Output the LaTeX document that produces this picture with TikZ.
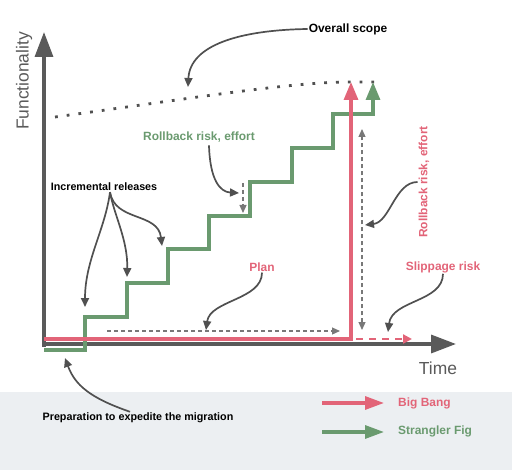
\documentclass[tikz,border=0pt]{standalone}
\usepackage{fontspec}
\setmainfont{Liberation Sans}
\usetikzlibrary{arrows.meta}
\definecolor{bbred}{RGB}{226,100,120}
\definecolor{sfgreen}{RGB}{106,154,111}
\definecolor{axisgray}{RGB}{90,90,90}
\definecolor{anngray}{RGB}{80,80,80}
\definecolor{dashgray}{RGB}{120,120,120}
\definecolor{band}{RGB}{236,239,242}
\begin{document}
\begin{tikzpicture}[x=1bp,y=-1bp,
  axisline/.style={draw=axisgray,line width=3.4bp,-{Triangle[length=25bp,width=18bp]}},
  redline/.style={draw=bbred,line width=3.2bp},
  greenline/.style={draw=sfgreen,line width=3.2bp},
  ann/.style={draw=anngray,line width=1.7bp,-{Triangle[length=9bp,width=8bp]}},
  dashann/.style={draw=dashgray,line width=1.2bp,dash pattern=on 4bp off 3bp},
  lbl/.style={font=\bfseries\fontsize{10.8}{13}\selectfont,inner sep=1bp},
  clbl/.style={font=\bfseries\fontsize{12}{14}\selectfont,inner sep=1bp},
  axlbl/.style={font=\fontsize{17.5}{20}\selectfont,text=axisgray,inner sep=0bp}]
\useasboundingbox (0,0) rectangle (512,470);
\fill[band] (0,392) rectangle (512,470);
% dotted overall scope
\draw[anngray,line width=2.8bp,dash pattern=on 2.8bp off 9bp] (55,117) .. controls (180,100) and (290,82) .. (348,82) -- (376,82);
% axes
\coordinate (ytop) at (44,32);
\coordinate (xend) at (456,344);
\draw[axisline] (44,346.7) -- (ytop);
\draw[axisline] (42.3,344) -- (xend);
\node[axlbl,rotate=90] (func) at (24,81) {Functionality};
\node[axlbl] (time) at (438,368) {Time};
% green staircase
\coordinate (g0) at (44,350);
\coordinate (gtip) at (373,82);
\draw[greenline,-{Triangle[length=18bp,width=14bp]}] (g0) -- (85,350) -- (85,317) -- (127,317) -- (127,283) -- (168,283) -- (168,249) -- (209,249) -- (209,216) -- (250,216) -- (250,182) -- (292,182) -- (292,148) -- (333,148) -- (333,114) -- (373,114) -- (gtip);
% red big bang
\coordinate (r0) at (44,339);
\coordinate (rtip) at (351,82);
\draw[redline,-{Triangle[length=18bp,width=14bp]}] (r0) -- (351,339) -- (rtip);
\coordinate (sl0) at (356,339);
\coordinate (sl1) at (412,339);
\draw[bbred,line width=2.2bp,dash pattern=on 7bp off 6bp,-{Triangle[length=9bp,width=9bp]}] (sl0) -- (sl1);
% gray dashed measures
\coordinate (p0) at (107,331);
\coordinate (p1) at (340,331);
\draw[dashann,-{Triangle[length=8bp,width=7bp]}] (p0) -- (p1);
\coordinate (v0) at (362,330);
\coordinate (v1) at (362,129);
\draw[dashann,{Triangle[length=8bp,width=7bp]}-{Triangle[length=8bp,width=7bp]}] (v0) -- (v1);
\coordinate (s0) at (243,183);
\coordinate (s1) at (243,213);
\draw[dashann,-{Triangle[length=8bp,width=7bp]}] (s0) -- (s1);
% labels
\node[clbl] (scope) at (348,29) {Overall scope};
\node[clbl,text=sfgreen] (rbg) at (199,137) {Rollback risk, effort};
\node[lbl] (inc) at (104,187) {Incremental releases};
\node[clbl,text=bbred] (plan) at (262,267) {Plan};
\node[clbl,text=bbred] (slip) at (443,267) {Slippage risk};
\node[clbl,text=bbred,rotate=90] (rbr) at (424,182) {Rollback risk, effort};
\node[lbl] (prep) at (138,418) {Preparation to expedite the migration};
% annotation arrows
\coordinate (scopeT) at (188,87);
\draw[ann] (scope.west) .. controls (240,30) and (190,45) .. (scopeT);
\coordinate (rbgT) at (239,193);
\draw[ann] (rbg.south) ++(10,2) .. controls (210,180) and (220,192) .. (rbgT);
\coordinate (incA) at (85,307);
\coordinate (incB) at (127,277);
\coordinate (incC) at (162,246);
\draw[ann] (inc.south) ++(6,0) .. controls (105,230) and (85,260) .. (incA);
\draw[ann] (inc.south) ++(6,0) .. controls (114,215) and (128,240) .. (incB);
\draw[ann] (inc.south) ++(6,0) .. controls (115,222) and (158,212) .. (incC);
\coordinate (planT) at (206,330);
\draw[ann] (plan.south) .. controls (262,300) and (210,300) .. (planT);
\coordinate (slipT) at (388,332);
\draw[ann] (slip.south) .. controls (443,302) and (392,300) .. (slipT);
\coordinate (rbrT) at (365,225);
\draw[ann] (rbr.north) .. controls (395,182) and (390,222) .. (rbrT);
\coordinate (prepT) at (65,358);
\draw[ann] (prep.north) ++(-8,0) .. controls (90,398) and (75,385) .. (prepT);
% legend
\coordinate (lr0) at (322,403);
\coordinate (lr1) at (384,403);
\coordinate (lg0) at (322,432);
\coordinate (lg1) at (384,432);
\draw[redline,-{Triangle[length=19bp,width=13bp]}] (lr0) -- (lr1);
\draw[greenline,-{Triangle[length=19bp,width=13bp]}] (lg0) -- (lg1);
\node[clbl,text=bbred,anchor=west] (bb) at (397,403) {Big Bang};
\node[clbl,text=sfgreen,anchor=west] (sf) at (397,431) {Strangler Fig};
\end{tikzpicture}
\end{document}
